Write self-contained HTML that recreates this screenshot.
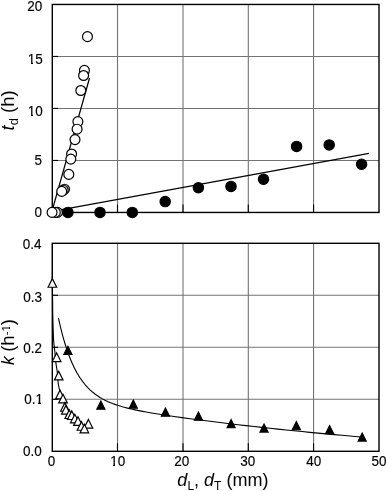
<!DOCTYPE html><html><head><meta charset="utf-8"><style>html,body{margin:0;padding:0;background:#fff}svg{display:block}text{font-family:"Liberation Sans",Arial,sans-serif;fill:#000}</style></head><body>
<svg width="387" height="491" viewBox="0 0 387 491">
<line x1="117.50" y1="4.45" x2="117.50" y2="212.45" stroke="#737373" stroke-width="1.1"/>
<line x1="183.00" y1="4.45" x2="183.00" y2="212.45" stroke="#737373" stroke-width="1.1"/>
<line x1="248.30" y1="4.45" x2="248.30" y2="212.45" stroke="#737373" stroke-width="1.1"/>
<line x1="313.55" y1="4.45" x2="313.55" y2="212.45" stroke="#737373" stroke-width="1.1"/>
<line x1="52.30" y1="160.45" x2="379.00" y2="160.45" stroke="#737373" stroke-width="1.1"/>
<line x1="52.30" y1="108.45" x2="379.00" y2="108.45" stroke="#737373" stroke-width="1.1"/>
<line x1="52.30" y1="56.45" x2="379.00" y2="56.45" stroke="#737373" stroke-width="1.1"/>
<line x1="117.50" y1="204.45" x2="117.50" y2="212.45" stroke="#000" stroke-width="1.1"/>
<line x1="183.00" y1="204.45" x2="183.00" y2="212.45" stroke="#000" stroke-width="1.1"/>
<line x1="248.30" y1="204.45" x2="248.30" y2="212.45" stroke="#000" stroke-width="1.1"/>
<line x1="313.55" y1="204.45" x2="313.55" y2="212.45" stroke="#000" stroke-width="1.1"/>
<line x1="52.30" y1="160.45" x2="58.10" y2="160.45" stroke="#000" stroke-width="1.1"/>
<line x1="52.30" y1="108.45" x2="58.10" y2="108.45" stroke="#000" stroke-width="1.1"/>
<line x1="52.30" y1="56.45" x2="58.10" y2="56.45" stroke="#000" stroke-width="1.1"/>
<rect x="52.3" y="4.45" width="326.70" height="208.00" fill="none" stroke="#000" stroke-width="1.4"/>
<line x1="117.50" y1="243.30" x2="117.50" y2="451.30" stroke="#737373" stroke-width="1.1"/>
<line x1="183.00" y1="243.30" x2="183.00" y2="451.30" stroke="#737373" stroke-width="1.1"/>
<line x1="248.30" y1="243.30" x2="248.30" y2="451.30" stroke="#737373" stroke-width="1.1"/>
<line x1="313.55" y1="243.30" x2="313.55" y2="451.30" stroke="#737373" stroke-width="1.1"/>
<line x1="52.30" y1="399.30" x2="379.00" y2="399.30" stroke="#737373" stroke-width="1.1"/>
<line x1="52.30" y1="347.30" x2="379.00" y2="347.30" stroke="#737373" stroke-width="1.1"/>
<line x1="52.30" y1="295.30" x2="379.00" y2="295.30" stroke="#737373" stroke-width="1.1"/>
<line x1="117.50" y1="443.30" x2="117.50" y2="451.30" stroke="#000" stroke-width="1.1"/>
<line x1="183.00" y1="443.30" x2="183.00" y2="451.30" stroke="#000" stroke-width="1.1"/>
<line x1="248.30" y1="443.30" x2="248.30" y2="451.30" stroke="#000" stroke-width="1.1"/>
<line x1="313.55" y1="443.30" x2="313.55" y2="451.30" stroke="#000" stroke-width="1.1"/>
<line x1="52.30" y1="399.30" x2="58.10" y2="399.30" stroke="#000" stroke-width="1.1"/>
<line x1="52.30" y1="347.30" x2="58.10" y2="347.30" stroke="#000" stroke-width="1.1"/>
<line x1="52.30" y1="295.30" x2="58.10" y2="295.30" stroke="#000" stroke-width="1.1"/>
<rect x="52.3" y="243.30" width="326.70" height="208.00" fill="none" stroke="#000" stroke-width="1.4"/>
<line x1="51.67" y1="212.4" x2="89.53" y2="78" stroke="#000" stroke-width="1.25"/>
<line x1="52.3" y1="211.4" x2="369" y2="153.45" stroke="#000" stroke-width="1.25"/>
<circle cx="329.2" cy="144.9" r="5.2" fill="#000" stroke="#000" stroke-width="1.1"/>
<circle cx="296.6" cy="146.4" r="5.2" fill="#000" stroke="#000" stroke-width="1.1"/>
<circle cx="361.6" cy="164.2" r="5.2" fill="#000" stroke="#000" stroke-width="1.1"/>
<circle cx="263.5" cy="179.3" r="5.2" fill="#000" stroke="#000" stroke-width="1.1"/>
<circle cx="231" cy="186.4" r="5.2" fill="#000" stroke="#000" stroke-width="1.1"/>
<circle cx="198.4" cy="187.7" r="5.2" fill="#000" stroke="#000" stroke-width="1.1"/>
<circle cx="165.2" cy="201.6" r="5.2" fill="#000" stroke="#000" stroke-width="1.1"/>
<circle cx="67.9" cy="212.4" r="5.2" fill="#000" stroke="#000" stroke-width="1.1"/>
<circle cx="100" cy="212.4" r="5.2" fill="#000" stroke="#000" stroke-width="1.1"/>
<circle cx="132.3" cy="212.4" r="5.2" fill="#000" stroke="#000" stroke-width="1.1"/>
<circle cx="87.45" cy="36.65" r="4.95" fill="#fff" stroke="#000" stroke-width="1.2"/>
<circle cx="84.4" cy="70.4" r="4.95" fill="#fff" stroke="#000" stroke-width="1.2"/>
<circle cx="83.6" cy="75.5" r="4.95" fill="#fff" stroke="#000" stroke-width="1.2"/>
<circle cx="80.8" cy="90.5" r="4.95" fill="#fff" stroke="#000" stroke-width="1.2"/>
<circle cx="77.9" cy="121.6" r="4.95" fill="#fff" stroke="#000" stroke-width="1.2"/>
<circle cx="77.1" cy="129.2" r="4.95" fill="#fff" stroke="#000" stroke-width="1.2"/>
<circle cx="75.0" cy="139.6" r="4.95" fill="#fff" stroke="#000" stroke-width="1.2"/>
<circle cx="71.6" cy="154.0" r="4.95" fill="#fff" stroke="#000" stroke-width="1.2"/>
<circle cx="70.8" cy="159.1" r="4.95" fill="#fff" stroke="#000" stroke-width="1.2"/>
<circle cx="68.8" cy="174.4" r="4.95" fill="#fff" stroke="#000" stroke-width="1.2"/>
<circle cx="64.5" cy="189.2" r="4.95" fill="#fff" stroke="#000" stroke-width="1.2"/>
<circle cx="63.2" cy="190.2" r="4.95" fill="#fff" stroke="#000" stroke-width="1.2"/>
<circle cx="61.7" cy="191.4" r="4.95" fill="#fff" stroke="#000" stroke-width="1.2"/>
<circle cx="57.4" cy="212.4" r="4.95" fill="#fff" stroke="#000" stroke-width="1.2"/>
<circle cx="55.3" cy="212.4" r="4.95" fill="#fff" stroke="#000" stroke-width="1.2"/>
<circle cx="52.05" cy="212.4" r="4.95" fill="#fff" stroke="#000" stroke-width="1.2"/>
<path d="M58.40,317.96 L59.10,321.14 L59.80,324.20 L60.50,327.15 L61.20,329.99 L61.90,332.73 L62.60,335.37 L63.30,337.91 L64.00,340.36 L64.70,342.73 L65.40,345.01 L66.10,347.20 L66.80,349.32 L67.50,351.36 L68.20,353.33 L68.90,355.23 L69.60,357.06 L70.30,358.82 L71.00,360.52 L71.70,362.17 L72.40,363.75 L73.10,365.28 L73.80,366.76 L74.50,368.18 L75.20,369.56 L75.90,370.88 L76.60,372.16 L77.30,373.40 L78.00,374.59 L78.70,375.75 L79.40,376.86 L80.00,377.78 L82.50,381.36 L85.00,384.52 L87.50,387.33 L90.00,389.82 L92.50,392.05 L95.00,394.04 L97.50,395.83 L100.00,397.43 L102.50,398.88 L105.00,400.20 L107.50,401.39 L110.00,402.48 L112.50,403.48 L115.00,404.39 L117.50,405.24 L120.00,406.03 L122.50,406.77 L125.00,407.45 L127.50,408.10 L130.00,408.71 L132.50,409.29 L135.00,409.84 L137.50,410.36 L140.00,410.87 L142.50,411.35 L145.00,411.82 L147.50,412.28 L150.00,412.71 L158.00,414.05 L166.00,415.29 L174.00,416.47 L182.00,417.60 L190.00,418.69 L198.00,419.75 L206.00,420.78 L214.00,421.79 L222.00,422.78 L230.00,423.74 L238.00,424.68 L246.00,425.60 L254.00,426.51 L262.00,427.39 L270.00,428.26 L278.00,429.11 L286.00,429.94 L294.00,430.75 L302.00,431.55 L310.00,432.34 L318.00,433.10 L326.00,433.86 L334.00,434.59 L342.00,435.31 L350.00,436.02 L358.00,436.72 L360.70,436.95" fill="none" stroke="#000" stroke-width="1.1" stroke-linejoin="round"/>
<path d="M52.40,244.00 C52.40,250.50 52.37,273.67 52.40,283.00 C52.43,292.33 52.52,293.83 52.60,300.00 C52.68,306.17 52.73,313.33 52.90,320.00 C53.07,326.67 53.27,334.67 53.60,340.00 C53.93,345.33 54.53,348.28 54.90,352.00 C55.27,355.72 55.42,359.05 55.80,362.30 C56.18,365.55 56.78,367.88 57.20,371.50 C57.62,375.12 57.80,380.58 58.30,384.00 C58.80,387.42 59.42,389.58 60.20,392.00 C60.98,394.42 62.12,396.00 63.00,398.50 C63.88,401.00 64.45,404.50 65.50,407.00 C66.55,409.50 67.75,411.60 69.30,413.50 C70.85,415.40 73.02,416.65 74.80,418.40 C76.58,420.15 78.38,422.33 80.00,424.00 C81.62,425.67 83.75,427.67 84.50,428.40" fill="none" stroke="#000" stroke-width="1.1"/>
<polygon points="67.90,346.34 72.00,354.54 63.80,354.54" fill="#000" stroke="#000" stroke-width="1.1"/>
<polygon points="133.30,400.09 137.40,408.29 129.20,408.29" fill="#000" stroke="#000" stroke-width="1.1"/>
<polygon points="100.85,401.09 104.95,409.29 96.75,409.29" fill="#000" stroke="#000" stroke-width="1.1"/>
<polygon points="165.45,408.09 169.55,416.29 161.35,416.29" fill="#000" stroke="#000" stroke-width="1.1"/>
<polygon points="198.45,411.99 202.55,420.19 194.35,420.19" fill="#000" stroke="#000" stroke-width="1.1"/>
<polygon points="231.10,419.49 235.20,427.69 227.00,427.69" fill="#000" stroke="#000" stroke-width="1.1"/>
<polygon points="296.35,421.54 300.45,429.74 292.25,429.74" fill="#000" stroke="#000" stroke-width="1.1"/>
<polygon points="264.05,423.89 268.15,432.09 259.95,432.09" fill="#000" stroke="#000" stroke-width="1.1"/>
<polygon points="329.60,425.54 333.70,433.74 325.50,433.74" fill="#000" stroke="#000" stroke-width="1.1"/>
<polygon points="362.20,432.89 366.30,441.09 358.10,441.09" fill="#000" stroke="#000" stroke-width="1.1"/>
<polygon points="52.40,278.65 56.70,287.24 48.10,287.24" fill="#fff" stroke="#000" stroke-width="1.2"/>
<polygon points="56.65,352.95 60.95,361.54 52.35,361.54" fill="#fff" stroke="#000" stroke-width="1.2"/>
<polygon points="58.70,371.30 63.00,379.89 54.40,379.89" fill="#fff" stroke="#000" stroke-width="1.2"/>
<polygon points="60.00,390.20 64.30,398.79 55.70,398.79" fill="#fff" stroke="#000" stroke-width="1.2"/>
<polygon points="63.00,394.30 67.30,402.89 58.70,402.89" fill="#fff" stroke="#000" stroke-width="1.2"/>
<polygon points="64.90,402.65 69.20,411.24 60.60,411.24" fill="#fff" stroke="#000" stroke-width="1.2"/>
<polygon points="65.90,405.45 70.20,414.04 61.60,414.04" fill="#fff" stroke="#000" stroke-width="1.2"/>
<polygon points="69.30,409.90 73.60,418.49 65.00,418.49" fill="#fff" stroke="#000" stroke-width="1.2"/>
<polygon points="71.80,410.90 76.10,419.49 67.50,419.49" fill="#fff" stroke="#000" stroke-width="1.2"/>
<polygon points="74.80,414.25 79.10,422.84 70.50,422.84" fill="#fff" stroke="#000" stroke-width="1.2"/>
<polygon points="78.00,416.85 82.30,425.44 73.70,425.44" fill="#fff" stroke="#000" stroke-width="1.2"/>
<polygon points="88.40,419.45 92.70,428.04 84.10,428.04" fill="#fff" stroke="#000" stroke-width="1.2"/>
<polygon points="81.50,421.65 85.80,430.24 77.20,430.24" fill="#fff" stroke="#000" stroke-width="1.2"/>
<polygon points="84.40,424.25 88.70,432.84 80.10,432.84" fill="#fff" stroke="#000" stroke-width="1.2"/>
<text transform="translate(42.30,0.46) scale(1,1.06)" y="9.67" font-size="13.5" text-anchor="end" stroke="#000" stroke-width="0.15">20</text>
<text transform="translate(42.80,53.36) scale(1,1.06)" y="9.67" font-size="13.5" text-anchor="end" stroke="#000" stroke-width="0.15">15</text>
<text transform="translate(42.80,105.36) scale(1,1.06)" y="9.67" font-size="13.5" text-anchor="end" stroke="#000" stroke-width="0.15">10</text>
<text transform="translate(41.90,154.46) scale(1,1.06)" y="9.67" font-size="13.5" text-anchor="end" stroke="#000" stroke-width="0.15">5</text>
<text transform="translate(41.90,206.96) scale(1,1.06)" y="9.67" font-size="13.5" text-anchor="end" stroke="#000" stroke-width="0.15">0</text>
<text transform="translate(41.60,238.46) scale(1,1.06)" y="9.67" font-size="13.5" text-anchor="end" stroke="#000" stroke-width="0.15">0.4</text>
<text transform="translate(42.10,292.21) scale(1,1.06)" y="9.67" font-size="13.5" text-anchor="end" stroke="#000" stroke-width="0.15">0.3</text>
<text transform="translate(42.10,342.66) scale(1,1.06)" y="9.67" font-size="13.5" text-anchor="end" stroke="#000" stroke-width="0.15">0.2</text>
<text transform="translate(43.10,393.56) scale(1,1.06)" y="9.67" font-size="13.5" text-anchor="end" stroke="#000" stroke-width="0.15">0.1</text>
<text transform="translate(41.80,445.51) scale(1,1.06)" y="9.67" font-size="13.5" text-anchor="end" stroke="#000" stroke-width="0.15">0.0</text>
<text transform="translate(51.60,455.76) scale(1,1.06)" y="9.67" font-size="13.5" text-anchor="middle" stroke="#000" stroke-width="0.15">0</text>
<text transform="translate(117.70,455.76) scale(1,1.06)" y="9.67" font-size="13.5" text-anchor="middle" stroke="#000" stroke-width="0.15">10</text>
<text transform="translate(181.70,455.76) scale(1,1.06)" y="9.67" font-size="13.5" text-anchor="middle" stroke="#000" stroke-width="0.15">20</text>
<text transform="translate(247.80,455.76) scale(1,1.06)" y="9.67" font-size="13.5" text-anchor="middle" stroke="#000" stroke-width="0.15">30</text>
<text transform="translate(313.80,455.76) scale(1,1.06)" y="9.67" font-size="13.5" text-anchor="middle" stroke="#000" stroke-width="0.15">40</text>
<text transform="translate(379.00,455.76) scale(1,1.06)" y="9.67" font-size="13.5" text-anchor="middle" stroke="#000" stroke-width="0.15">50</text>
<text x="222.9" y="485.6" font-size="18" text-anchor="middle"><tspan font-style="italic">d</tspan><tspan font-size="12" dy="4.2">L</tspan><tspan dy="-4.2">, </tspan><tspan font-style="italic">d</tspan><tspan font-size="12" dy="4.2">T</tspan><tspan dy="-4.2"> (mm)</tspan></text>
<text transform="translate(14.0,110.4) rotate(-90)" font-size="18.5" text-anchor="middle"><tspan font-style="italic">t</tspan><tspan font-size="13" dy="4.4">d</tspan><tspan dy="-4.4"> (h)</tspan></text>
<text transform="translate(14.0,365.0) rotate(-90)" font-size="18.5"><tspan font-style="italic" font-size="17.5">k</tspan><tspan dx="-0.7"> (h</tspan><tspan font-size="11.5" dy="-4.4">-1</tspan><tspan dy="4.4">)</tspan></text>
<rect x="29" y="62" width="1" height="1" fill="#fff"/>
<rect x="30" y="62" width="1" height="1" fill="#fff"/>
<rect x="33" y="62" width="1" height="1" fill="#fff"/>
<rect x="34" y="62" width="1" height="1" fill="#fff"/>
<rect x="28" y="63" width="1" height="1" fill="#fff"/>
<rect x="29" y="63" width="1" height="1" fill="#fff"/>
<rect x="30" y="63" width="1" height="1" fill="#fff"/>
<rect x="33" y="63" width="1" height="1" fill="#fff"/>
<rect x="34" y="63" width="1" height="1" fill="#fff"/>
<rect x="29" y="114" width="1" height="1" fill="#fff"/>
<rect x="30" y="114" width="1" height="1" fill="#fff"/>
<rect x="33" y="114" width="1" height="1" fill="#fff"/>
<rect x="34" y="114" width="1" height="1" fill="#fff"/>
<rect x="28" y="115" width="1" height="1" fill="#fff"/>
<rect x="29" y="115" width="1" height="1" fill="#fff"/>
<rect x="30" y="115" width="1" height="1" fill="#fff"/>
<rect x="33" y="115" width="1" height="1" fill="#fff"/>
<rect x="34" y="115" width="1" height="1" fill="#fff"/>
<rect x="36" y="402" width="1" height="1" fill="#fff"/>
<rect x="37" y="402" width="1" height="1" fill="#fff"/>
<rect x="41" y="402" width="1" height="1" fill="#fff"/>
<rect x="42" y="402" width="1" height="1" fill="#fff"/>
<rect x="36" y="403" width="1" height="1" fill="#fff"/>
<rect x="37" y="403" width="1" height="1" fill="#fff"/>
<rect x="41" y="403" width="1" height="1" fill="#fff"/>
<rect x="42" y="403" width="1" height="1" fill="#fff"/>
<rect x="111" y="464" width="1" height="1" fill="#fff"/>
<rect x="112" y="464" width="1" height="1" fill="#fff"/>
<rect x="115" y="464" width="1" height="1" fill="#fff"/>
<rect x="116" y="464" width="1" height="1" fill="#fff"/>
<rect x="111" y="465" width="1" height="1" fill="#fff"/>
<rect x="112" y="465" width="1" height="1" fill="#fff"/>
<rect x="115" y="465" width="1" height="1" fill="#fff"/>
<rect x="116" y="465" width="1" height="1" fill="#fff"/>
<rect x="117" y="465" width="1" height="1" fill="#fff"/>
<rect x="9" y="326" width="1" height="1" fill="#fff"/>
<rect x="9" y="329" width="1" height="2" fill="#fff"/>
</svg></body></html>
